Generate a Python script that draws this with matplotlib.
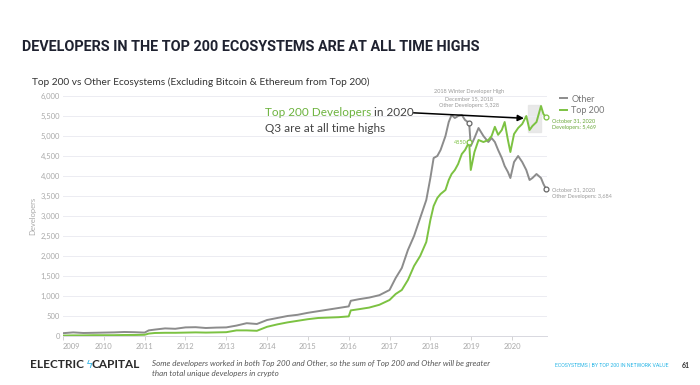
import matplotlib.pyplot as plt
from matplotlib.patches import Rectangle
from matplotlib.lines import Line2D

# decimal years
years = [2009.00, 2009.25, 2009.50, 2009.75, 2010.00, 2010.25, 2010.50, 2010.75,
         2011.00, 2011.10, 2011.25, 2011.50, 2011.75, 2012.00, 2012.25, 2012.50,
         2012.75, 2013.00, 2013.25, 2013.50, 2013.75, 2014.00, 2014.25, 2014.50,
         2014.75, 2015.00, 2015.25, 2015.50, 2015.75, 2016.00, 2016.05, 2016.25,
         2016.50, 2016.75, 2017.00, 2017.15, 2017.30, 2017.45, 2017.60, 2017.75,
         2017.90, 2018.00, 2018.08, 2018.17, 2018.25, 2018.37, 2018.45, 2018.52,
         2018.60, 2018.68, 2018.77, 2018.85, 2018.95, 2018.99, 2019.08, 2019.18,
         2019.30, 2019.42, 2019.50, 2019.58, 2019.66, 2019.75, 2019.82, 2019.90,
         2019.96, 2020.05, 2020.15, 2020.25, 2020.35, 2020.43, 2020.50, 2020.60,
         2020.71, 2020.77, 2020.83]
other = [70, 90, 75, 80, 85, 90, 100, 95,
         85, 140, 160, 190, 180, 215, 220, 200,
         210, 215, 260, 320, 300, 400, 450, 500,
         530, 580, 620, 660, 700, 740, 880, 920,
         960, 1020, 1150, 1450, 1700, 2150, 2500, 2950,
         3400, 3950, 4450, 4500, 4650, 5000, 5350, 5525,
         5450, 5500, 5525, 5400, 5328, 4750, 4950, 5200,
         5000, 4850, 4950, 4850, 4650, 4450, 4250, 4100,
         3950, 4350, 4500, 4350, 4150, 3900, 3950, 4050,
         3950, 3800, 3684]
top200 = [10, 15, 15, 20, 20, 20, 25, 25,
          30, 60, 75, 80, 80, 85, 90, 85,
          90, 95, 140, 140, 130, 230, 290, 340,
          380, 420, 450, 460, 470, 490, 640, 670,
          710, 780, 900, 1050, 1150, 1400, 1750, 2000,
          2350, 2900, 3250, 3450, 3550, 3650, 3900, 4050,
          4150, 4300, 4550, 4650, 4850, 4150, 4600, 4900,
          4850, 4900, 5000, 5230, 5030, 5150, 5350, 4900,
          4600, 5050, 5200, 5300, 5500, 5150, 5250, 5350,
          5750, 5550, 5469]
year_ticks = list(range(2009, 2021))
y_ticks = list(range(0, 6001, 500))

GRAY = '#8c8c8c'
GREEN = '#7cc242'

plt.rcParams['font.family'] = ['Lato', 'DejaVu Sans']

fig = plt.figure(figsize=(7, 3.85), dpi=100)
ax = fig.add_axes([0.09, 0.1273, 0.691, 0.6233])

ax.plot(years, other, color=GRAY, lw=1.4, label='Other')
ax.plot(years, top200, color=GREEN, lw=1.4, label='Top 200')

# highlight box around recent highs
ax.add_patch(Rectangle((2020.39, 5108), 0.33, 667, color='#e4e4e4', alpha=0.8, zorder=0))

# point markers
ax.plot([2018.95, 2020.83], [5328, 3684], 'o', ms=3.5, mfc='white', mec='#666', mew=0.9,
        clip_on=False)
ax.plot([2018.95, 2020.83], [4850, 5469], 'o', ms=3.5, mfc='white', mec=GREEN, mew=0.9,
        clip_on=False)

ax.annotate('', xy=(2020.36, 5440), xytext=(2017.52, 5583),
            arrowprops=dict(arrowstyle='-|>', color='black', lw=1.1, mutation_scale=9))

ax.text(2018.95, 5700, '2018 Winter Developer High\nDecember 15, 2018\nOther Developers: 5,328',
        fontsize=4, color='#999', ha='center', va='bottom', linespacing=1.5)
ax.text(2018.88, 4850, '4850', fontsize=4, color=GREEN, ha='right', va='center')
ax.text(2020.97, 5290, 'October 31, 2020\nDevelopers: 5,469', fontsize=4, color='#6aa83a',
        ha='left', va='center', linespacing=1.5)
ax.text(2020.97, 3580, 'October 31, 2020\nOther Developers: 3,684', fontsize=4, color='#999',
        ha='left', va='center', linespacing=1.5)

t1 = ax.text(2013.95, 5600, 'Top 200 Developers', fontsize=8.5, color='#6db33f', va='center')
ax.annotate(' in 2020', xy=(1, 0), xycoords=t1, fontsize=8.5, color='#444', va='bottom')
ax.text(2013.95, 5190, 'Q3 are at all time highs', fontsize=8.5, color='#444', va='center')

ax.set_xlim(2009, 2020.85)
ax.set_ylim(0, 6000)
ax.set_yticks(y_ticks)
ax.set_yticklabels([f'{v:,}' for v in y_ticks])
ax.set_xticks(year_ticks)
ax.set_xticklabels([str(y) for y in year_ticks])
ax.get_xticklabels()[0].set_ha('left')
ax.grid(axis='y', color='#ececf2', lw=0.7)
ax.set_axisbelow(True)
for s in ['top', 'right', 'left']:
    ax.spines[s].set_visible(False)
ax.spines['bottom'].set_color('#d8d8e0')
ax.spines['bottom'].set_linewidth(0.7)
ax.tick_params(axis='y', length=0, labelsize=5.5, labelcolor='#aaa', pad=2)
ax.tick_params(axis='x', length=3, width=0.6, color='#ccc', labelsize=5.5, labelcolor='#aaa', pad=2)
ax.set_ylabel('Developers', fontsize=5.5, color='#aaa', labelpad=3)

handles = [Line2D([], [], color=GRAY, lw=1.4), Line2D([], [], color=GREEN, lw=1.4)]
ax.legend(handles, ['Other', 'Top 200'], loc='upper left', bbox_to_anchor=(1.01, 1.04),
          frameon=False, fontsize=6.5, labelcolor='#777', handlelength=0.8,
          handletextpad=0.5, labelspacing=0.3)

fig.text(22 / 700, 1 - 47 / 385, 'DEVELOPERS IN THE TOP 200 ECOSYSTEMS ARE AT ALL TIME HIGHS',
         fontsize=10.4, fontweight='bold', color='#1f2230', va='center',
         family=['Roboto', 'DejaVu Sans'])
fig.text(32 / 700, 1 - 82 / 385,
         'Top 200 vs Other Ecosystems (Excluding Bitcoin & Ethereum from Top 200)',
         fontsize=7.3, color='#333', va='center')

fig.text(30 / 700, 1 - 365 / 385, 'ELECTRIC', fontsize=8.5, fontweight='bold', color='#2a2a2a', va='center')
fig.text(86 / 700, 1 - 365 / 385, '\u03df', fontsize=8, color='#3bb8e8', va='center',
         family=['DejaVu Sans'])
fig.text(92 / 700, 1 - 365 / 385, 'CAPITAL', fontsize=8.5, fontweight='bold', color='#2a2a2a', va='center')
fig.text(152 / 700, 1 - 368 / 385,
         'Some developers worked in both Top 200 and Other, so the sum of Top 200 and Other will be greater\n'
         'than total unique developers in crypto',
         fontsize=5.8, style='italic', color='#555', va='center', linespacing=1.5)
fig.text(555 / 700, 1 - 365 / 385, 'ECOSYSTEMS | BY TOP 200 IN NETWORK VALUE', fontsize=3.8,
         color='#29b6e6', va='center', family=['Roboto', 'DejaVu Sans'])
fig.text(682 / 700, 1 - 365 / 385, '61', fontsize=5, fontweight='bold', color='#333', va='center')

fig.savefig('out.png', dpi=100)
